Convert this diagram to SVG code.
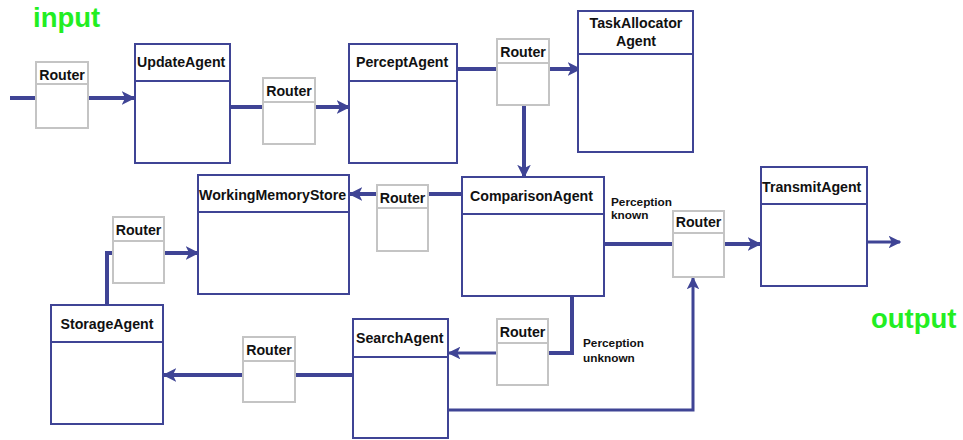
<svg xmlns="http://www.w3.org/2000/svg" width="963" height="440" viewBox="0 0 963 440">
<style>
.agent rect{fill:#fff;stroke:#3f4495;stroke-width:2}
.agent line{stroke:#3f4495;stroke-width:2}
.router rect{fill:#fff;stroke:#c4c4c4;stroke-width:2}
.router line{stroke:#c4c4c4;stroke-width:2}
text{font-family:"Liberation Sans",Arial,sans-serif;font-weight:bold;fill:#111}
.lbl{font-size:14.2px}
.small{font-size:11.8px}
.big{font-size:27.5px;fill:#22ee22}
.c{fill:none;stroke:#3f4495;stroke-width:4}
.t{fill:none;stroke:#3f4495;stroke-width:3}
</style>
<defs>
<marker id="a" viewBox="0 0 10 10" refX="9" refY="5" markerWidth="3.4" markerHeight="3.4" orient="auto" markerUnits="strokeWidth">
<path d="M0,0 L10,5 L0,10 L2.5,5 z" fill="#3f4495"/>
</marker>
<marker id="b" viewBox="0 0 10 10" refX="9" refY="5" markerWidth="4.2" markerHeight="4.2" orient="auto" markerUnits="strokeWidth">
<path d="M0,0 L10,5 L0,10 L2.5,5 z" fill="#3f4495"/>
</marker>
</defs>
<text class="big" x="33" y="27">input</text>
<text class="big" x="871" y="328">output</text>
<g id="connectors">
<path class="c" d="M10,98 H36"/>
<path class="c" d="M88,98 H134" marker-end="url(#a)"/>
<path class="c" d="M230,107 H263"/>
<path class="c" d="M315,107 H349" marker-end="url(#a)"/>
<path class="c" d="M457,69 H497"/>
<path class="c" d="M549,69 H580" marker-end="url(#a)"/>
<path class="c" d="M524,105 V177" marker-end="url(#a)"/>
<path class="c" d="M462,194 H428"/>
<path class="c" d="M377,194 H350" marker-end="url(#a)"/>
<path class="c" d="M107,305 V253 H113"/>
<path class="c" d="M164,253 H198" marker-end="url(#a)"/>
<path class="c" d="M352,375 H295"/>
<path class="c" d="M243,375 H164" marker-end="url(#a)"/>
<path class="c" d="M604,244 H673"/>
<path class="c" d="M724,244 H760" marker-end="url(#a)"/>
<path class="t" d="M865,242 H900" marker-end="url(#b)"/>
<path class="c" d="M572,296 V353 H548"/>
<path class="t" d="M497,353 H449" marker-end="url(#b)"/>
<path class="t" d="M449,410 H693 V278" marker-end="url(#b)"/>
</g>
<g id="router1" class="router"><rect x="36" y="62" width="52" height="66"/><line x1="36" y1="84" x2="88" y2="84"/><text class="lbl" x="62" y="80" text-anchor="middle">Router</text></g>
<g id="updateAgent" class="agent"><rect x="135" y="44" width="95" height="119"/><line x1="135" y1="81" x2="230" y2="81"/><text class="lbl" x="137" y="67">UpdateAgent</text></g>
<g id="router2" class="router"><rect x="263" y="78" width="52" height="66"/><line x1="263" y1="102" x2="315" y2="102"/><text class="lbl" x="289" y="96" text-anchor="middle">Router</text></g>
<g id="perceptAgent" class="agent"><rect x="349" y="44" width="108" height="119"/><line x1="349" y1="81" x2="457" y2="81"/><text class="lbl" x="356" y="67">PerceptAgent</text></g>
<g id="router3" class="router"><rect x="497" y="39" width="52" height="66"/><line x1="497" y1="63" x2="549" y2="63"/><text class="lbl" x="523" y="57" text-anchor="middle">Router</text></g>
<g id="taskAllocatorAgent" class="agent"><rect x="578" y="11" width="115" height="141"/><line x1="578" y1="54" x2="693" y2="54"/><text class="lbl" x="636" y="28" text-anchor="middle">TaskAllocator</text><text class="lbl" x="636" y="46" text-anchor="middle">Agent</text></g>
<g id="workingMemoryStore" class="agent"><rect x="198" y="175" width="151" height="119"/><line x1="198" y1="212" x2="349" y2="212"/><text class="lbl" x="199" y="200">WorkingMemoryStore</text></g>
<g id="router4" class="router"><rect x="377" y="185" width="51" height="66"/><line x1="377" y1="208" x2="428" y2="208"/><text class="lbl" x="402.5" y="203" text-anchor="middle">Router</text></g>
<g id="comparisonAgent" class="agent"><rect x="462" y="177" width="142" height="119"/><line x1="462" y1="214" x2="604" y2="214"/><text class="lbl" x="470" y="201">ComparisonAgent</text></g>
<g id="router5" class="router"><rect x="113" y="217" width="51" height="66"/><line x1="113" y1="241" x2="164" y2="241"/><text class="lbl" x="138.5" y="235" text-anchor="middle">Router</text></g>
<g id="storageAgent" class="agent"><rect x="51" y="305" width="112" height="119"/><line x1="51" y1="342" x2="163" y2="342"/><text class="lbl" x="107" y="329" text-anchor="middle">StorageAgent</text></g>
<g id="router6" class="router"><rect x="243" y="337" width="52" height="65"/><line x1="243" y1="361" x2="295" y2="361"/><text class="lbl" x="269" y="355" text-anchor="middle">Router</text></g>
<g id="searchAgent" class="agent"><rect x="353" y="319" width="95" height="119"/><line x1="353" y1="357" x2="448" y2="357"/><text class="lbl" x="356" y="343">SearchAgent</text></g>
<g id="router7" class="router"><rect x="497" y="319" width="51" height="66"/><line x1="497" y1="343" x2="548" y2="343"/><text class="lbl" x="522.5" y="337" text-anchor="middle">Router</text></g>
<g id="router8" class="router"><rect x="673" y="211" width="51" height="66"/><line x1="673" y1="233" x2="724" y2="233"/><text class="lbl" x="698.5" y="227" text-anchor="middle">Router</text></g>
<g id="transmitAgent" class="agent"><rect x="761" y="167" width="106" height="119"/><line x1="761" y1="204" x2="867" y2="204"/><text class="lbl" x="762" y="192">TransmitAgent</text></g>
<text class="small" x="611" y="206">Perception</text>
<text class="small" x="611" y="219">known</text>
<text class="small" x="583" y="347">Perception</text>
<text class="small" x="583" y="362">unknown</text>
</svg>
